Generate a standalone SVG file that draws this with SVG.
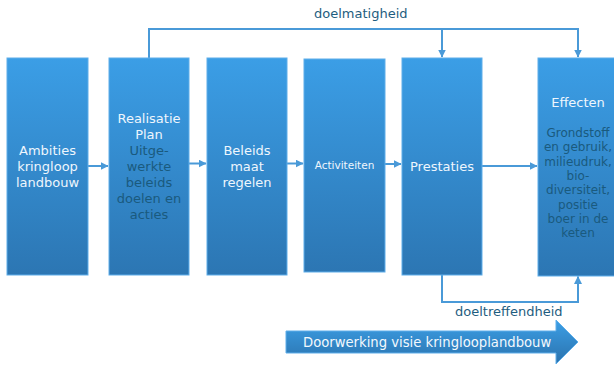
<svg xmlns="http://www.w3.org/2000/svg" width="614" height="365" viewBox="0 0 614 365">
  <defs>
    <linearGradient id="boxGrad" x1="0" y1="0" x2="0" y2="1">
      <stop offset="0" stop-color="#3b9ee6"/>
      <stop offset="1" stop-color="#2c76b3"/>
    </linearGradient>
    <linearGradient id="arrowGrad" x1="0" y1="0" x2="0" y2="1">
      <stop offset="0" stop-color="#3c9fe6"/>
      <stop offset="1" stop-color="#2a72ad"/>
    </linearGradient>
    <marker id="ah" viewBox="0 0 8 8" refX="7.5" refY="4" markerWidth="4" markerHeight="4" orient="auto" markerUnits="strokeWidth">
      <path d="M0,0 L8,4 L0,8 Z" fill="#4a9ad8"/>
    </marker>
  </defs>
  <style>
    .box { fill: url(#boxGrad); stroke: #5eaeea; stroke-width: 1; }
    .t { font-family: "DejaVu Sans", Verdana, sans-serif; text-anchor: middle; }
    .w { fill: #eef6fd; font-size: 13px; }
    .d { fill: #1a5a7e; }
    .lbl { font-family: "DejaVu Sans", Verdana, sans-serif; fill: #1e5d80; font-size: 13px; }
    .conn { fill: none; stroke: #4a9ad8; stroke-width: 2; }
  </style>
  <rect width="614" height="365" fill="#ffffff"/>

  <g id="connectors">
    <line class="conn" x1="88" y1="166" x2="108" y2="166" marker-end="url(#ah)"/>
    <line class="conn" x1="189" y1="163.5" x2="206" y2="163.5" marker-end="url(#ah)"/>
    <line class="conn" x1="287" y1="163.5" x2="303" y2="163.5" marker-end="url(#ah)"/>
    <line class="conn" x1="385" y1="164" x2="401" y2="164" marker-end="url(#ah)"/>
    <line class="conn" x1="482" y1="166" x2="537" y2="166" marker-end="url(#ah)"/>
    <polyline class="conn" points="149,58 149,29 578,29 578,57" marker-end="url(#ah)"/>
    <line class="conn" x1="442" y1="29" x2="442" y2="57" marker-end="url(#ah)"/>
    <polyline class="conn" points="442,275 442,302 578,302 578,276.5" marker-end="url(#ah)"/>
  </g>

  <g id="n1">
    <rect class="box" x="7" y="58" width="81" height="217"/>
    <text class="t w" x="47.5" y="155">Ambities</text>
    <text class="t w" x="47.5" y="171">kringloop</text>
    <text class="t w" x="47.5" y="187">landbouw</text>
  </g>
  <g id="n2">
    <rect class="box" x="109" y="58" width="80" height="217"/>
    <text class="t w" x="149" y="123">Realisatie</text>
    <text class="t w" x="149" y="139">Plan</text>
    <text class="t w d" x="149" y="155">Uitge-</text>
    <text class="t w d" x="149" y="171">werkte</text>
    <text class="t w d" x="149" y="187">beleids</text>
    <text class="t w d" x="149" y="203">doelen en</text>
    <text class="t w d" x="149" y="219">acties</text>
  </g>
  <g id="n3">
    <rect class="box" x="207" y="58" width="80" height="217"/>
    <text class="t w" x="247" y="155">Beleids</text>
    <text class="t w" x="247" y="171">maat</text>
    <text class="t w" x="247" y="187">regelen</text>
  </g>
  <g id="n4">
    <rect class="box" x="304" y="59" width="81" height="213"/>
    <text class="t w" x="344.5" y="168.5" style="font-size:10.5px">Activiteiten</text>
  </g>
  <g id="n5">
    <rect class="box" x="402" y="58" width="80" height="217"/>
    <text class="t w" x="442" y="171">Prestaties</text>
  </g>
  <g id="n6">
    <rect class="box" x="538" y="58" width="80" height="218"/>
    <text class="t w" x="578" y="107">Effecten</text>
    <g class="t d" style="font-size:12px">
      <text x="578" y="137">Grondstoff</text>
      <text x="578" y="151.3">en gebruik,</text>
      <text x="578" y="165.6">milieudruk,</text>
      <text x="578" y="179.9">bio-</text>
      <text x="578" y="194.2">diversiteit,</text>
      <text x="578" y="208.5">positie</text>
      <text x="578" y="222.8">boer in de</text>
      <text x="578" y="237.1">keten</text>
    </g>
  </g>

  <text class="lbl" x="314" y="18">doelmatigheid</text>
  <text class="lbl" x="455" y="316">doeltreffendheid</text>

  <g id="flow-arrow">
    <path d="M286,331 L556,331 L556,320 L578,342 L556,364 L556,353 L286,353 Z" fill="url(#arrowGrad)" stroke="#5eaeea" stroke-width="1"/>
    <text x="303" y="347" style="font-family:'DejaVu Sans',Verdana,sans-serif;font-size:13.2px;fill:#f2f8fd">Doorwerking visie kringlooplandbouw</text>
  </g>
</svg>
